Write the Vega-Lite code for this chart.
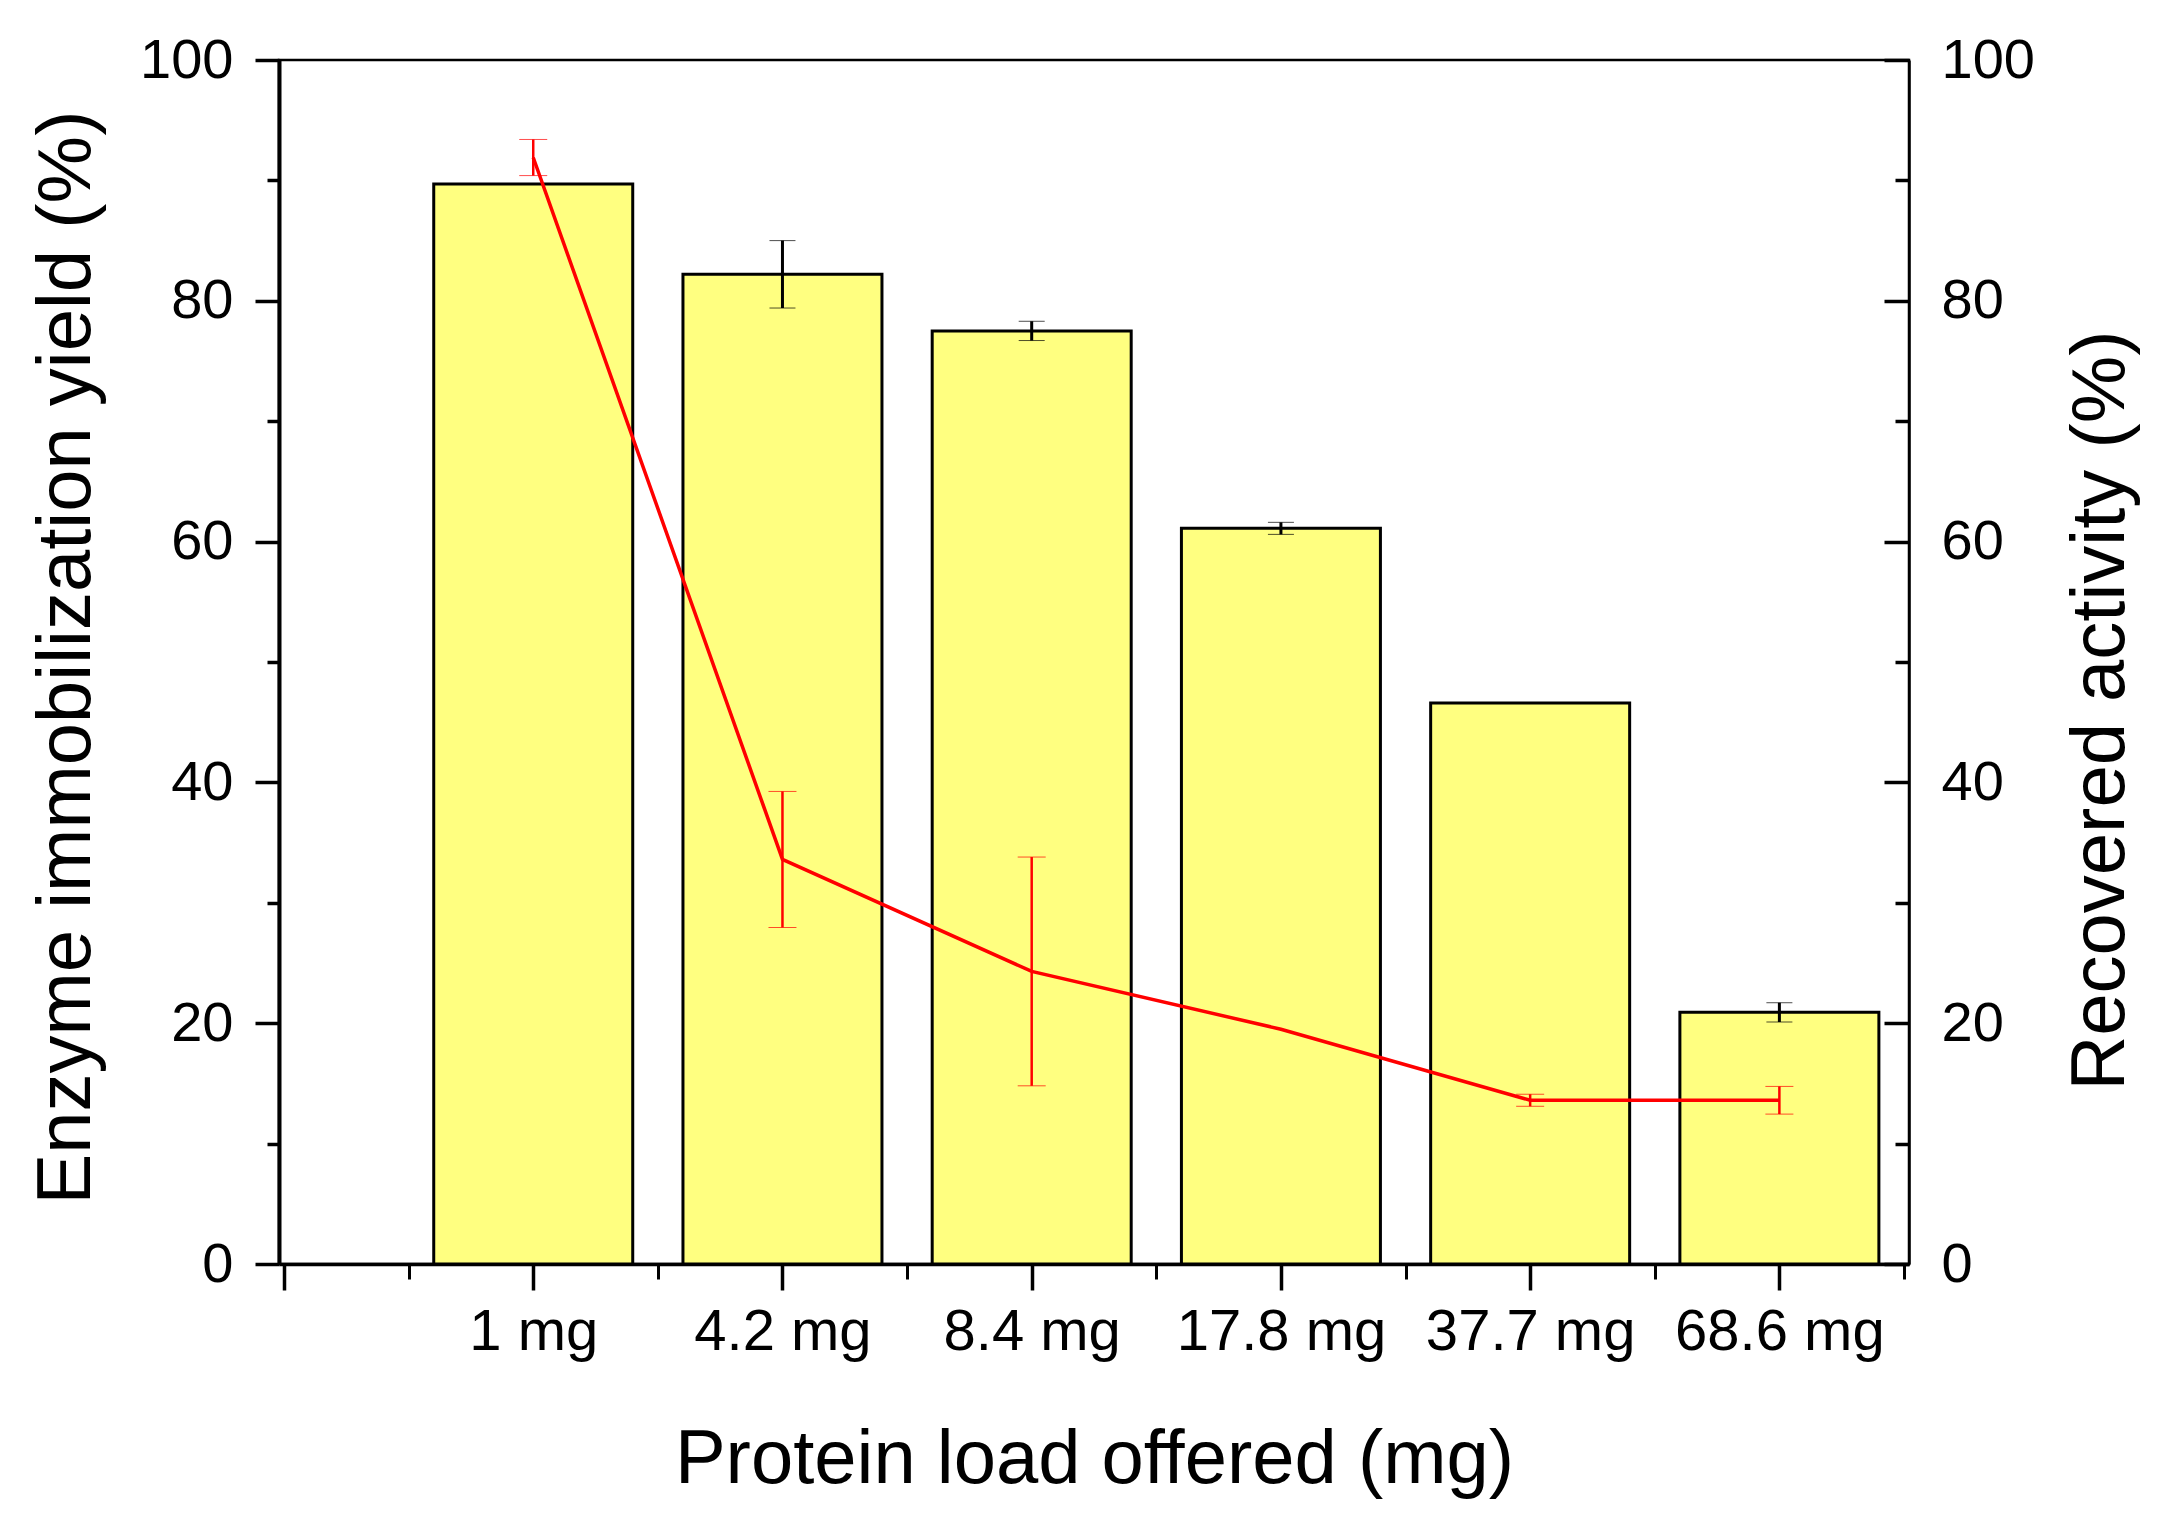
{
  "$schema": "https://vega.github.io/schema/vega-lite/v6.json",
  "width": 1630,
  "height": 1204,
  "autosize": {"type": "none"},
  "padding": {"left": 279, "top": 60, "right": 248, "bottom": 253},
  "background": "white",
  "config": {
    "view": {"stroke": "black", "strokeWidth": 2.5},
    "axis": {
      "labelFont": "Liberation Sans",
      "titleFont": "Liberation Sans",
      "labelColor": "black",
      "titleColor": "black",
      "domainColor": "black",
      "tickColor": "black",
      "grid": false,
      "labelFontSize": 56,
      "titleFontSize": 76,
      "titleFontWeight": "normal",
      "labelFlush": false,
      "labelOverlap": false,
      "labelLimit": 0
    }
  },
  "data": {
    "values": [
      {"pos": 1, "load": "1 mg", "yield": 89.7, "yieldErr": 0, "act": 91.9, "actErr": 1.5},
      {"pos": 2, "load": "4.2 mg", "yield": 82.2, "yieldErr": 2.8, "act": 33.6, "actErr": 5.65},
      {"pos": 3, "load": "8.4 mg", "yield": 77.5, "yieldErr": 0.8, "act": 24.3, "actErr": 9.5},
      {"pos": 4, "load": "17.8 mg", "yield": 61.1, "yieldErr": 0.5, "act": 19.5, "actErr": 0},
      {"pos": 5, "load": "37.7 mg", "yield": 46.6, "yieldErr": 0, "act": 13.6, "actErr": 0.5},
      {"pos": 6, "load": "68.6 mg", "yield": 20.9, "yieldErr": 0.8, "act": 13.6, "actErr": 1.15}
    ]
  },
  "resolve": {
    "scale": {"x": "shared", "y": "shared"},
    "axis": {"x": "independent", "y": "independent"}
  },
  "layer": [
    {
      "mark": {"type": "bar", "width": 199, "fill": "#FFFF80", "stroke": "black", "strokeWidth": 3},
      "encoding": {
        "x": {
          "field": "pos", "type": "quantitative",
          "scale": {"domain": [0, 6.5], "nice": false, "zero": false},
          "axis": {
            "orient": "bottom",
            "values": [0, 1, 2, 3, 4, 5, 6],
            "labelExpr": "['', '1 mg', '4.2 mg', '8.4 mg', '17.8 mg', '37.7 mg', '68.6 mg'][datum.value]",
            "labelFontSize": 58,
            "tickSize": 26, "tickWidth": 3.5, "domainWidth": 3.5,
            "labelPadding": 13,
            "title": "Protein load offered (mg)",
            "titleBaseline": "alphabetic",
            "titleY": 218
          }
        },
        "y": {
          "field": "yield", "type": "quantitative",
          "scale": {"domain": [0, 100], "nice": false},
          "axis": {
            "orient": "left",
            "values": [0, 20, 40, 60, 80, 100],
            "tickSize": 24, "tickWidth": 3.5, "domainWidth": 4,
            "labelPadding": 22,
            "title": "Enzyme immobilization yield (%)",
            "titleAngle": 270,
            "titleBaseline": "alphabetic",
            "titleX": -190,
            "titleY": 597
          }
        }
      }
    },
    {
      "transform": [{"filter": "datum.yieldErr > 0"}],
      "mark": {"type": "errorbar", "color": "black", "ticks": {"size": 26, "strokeWidth": 3}, "rule": {"strokeWidth": 3}},
      "encoding": {
        "x": {
          "field": "pos", "type": "quantitative",
          "scale": {"domain": [0, 6.5], "nice": false, "zero": false},
          "axis": {
            "orient": "bottom",
            "values": [0.5, 1.5, 2.5, 3.5, 4.5, 5.5, 6.5],
            "labels": false, "domain": false,
            "tickSize": 15, "tickWidth": 3,
            "title": null
          }
        },
        "y": {
          "field": "yield", "type": "quantitative",
          "scale": {"domain": [0, 100], "nice": false},
          "axis": {
            "orient": "left",
            "values": [10, 30, 50, 70, 90],
            "labels": false, "domain": false,
            "tickSize": 12, "tickWidth": 3.5,
            "title": null
          }
        },
        "yError": {"field": "yieldErr"}
      }
    },
    {
      "mark": {"type": "line", "color": "#FF0000", "strokeWidth": 3.5},
      "encoding": {
        "x": {
          "field": "pos", "type": "quantitative",
          "scale": {"domain": [0, 6.5], "nice": false, "zero": false},
          "axis": null
        },
        "y": {
          "field": "act", "type": "quantitative",
          "scale": {"domain": [0, 100], "nice": false},
          "axis": {
            "orient": "right",
            "values": [0, 20, 40, 60, 80, 100],
            "tickSize": -25, "tickWidth": 3.5, "domainWidth": 2.5,
            "labelPadding": 57,
            "title": "Recovered activity (%)",
            "titleAngle": 270,
            "titleBaseline": "alphabetic",
            "titleX": 214,
            "titleY": 650
          }
        }
      }
    },
    {
      "transform": [{"filter": "datum.actErr > 0"}],
      "mark": {"type": "errorbar", "color": "#FF0000", "ticks": {"size": 28, "strokeWidth": 3}, "rule": {"strokeWidth": 2.5}},
      "encoding": {
        "x": {
          "field": "pos", "type": "quantitative",
          "scale": {"domain": [0, 6.5], "nice": false, "zero": false},
          "axis": null
        },
        "y": {
          "field": "act", "type": "quantitative",
          "scale": {"domain": [0, 100], "nice": false},
          "axis": {
            "orient": "right",
            "values": [10, 30, 50, 70, 90],
            "labels": false, "domain": false,
            "tickSize": -14, "tickWidth": 3.5,
            "title": null
          }
        },
        "yError": {"field": "actErr"}
      }
    }
  ]
}
